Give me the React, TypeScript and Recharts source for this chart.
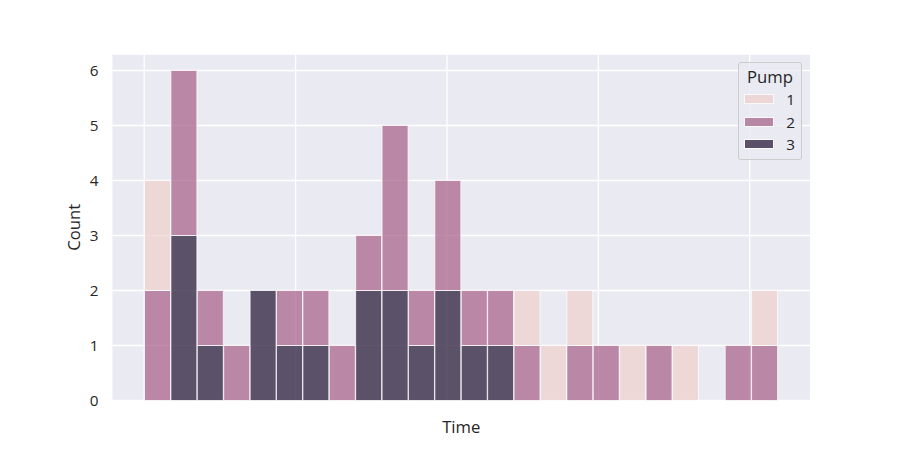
import { Bar, BarChart, CartesianGrid, Legend, XAxis, YAxis } from "recharts";

// histogram bins (index of each bin along the time axis)
const bins = [0, 1, 2, 3, 4, 5, 6, 7, 8, 9, 10, 11, 12, 13, 14, 15, 16, 17, 18, 19, 20, 21, 22, 23];

// counts per bin for each pump (stacked: 3 at the bottom, 1 on top)
const pump1 = [2, 0, 0, 0, 0, 0, 0, 0, 0, 0, 0, 0, 0, 0, 1, 1, 1, 0, 1, 0, 1, 0, 0, 1];
const pump2 = [2, 3, 1, 1, 0, 1, 1, 1, 1, 3, 1, 2, 1, 1, 1, 0, 1, 1, 0, 1, 0, 0, 1, 1];
const pump3 = [0, 3, 1, 0, 2, 1, 1, 0, 2, 2, 1, 2, 1, 1, 0, 0, 0, 0, 0, 0, 0, 0, 0, 0];

const pumps = ["1", "2", "3"];
const pumpColors = ["#edd1cd", "#a9668d", "#2b1d3b"];

// time-axis tick positions, in bin units (labels are not shown)
const timeTicks = [0, 5.73, 11.46, 17.19, 22.92];
const timeDomain = [-1.2, 25.2];
const countTicks = [0, 1, 2, 3, 4, 5, 6];

const rows = bins.map((b, i) => ({ bin: b, p1: pump1[i], p2: pump2[i], p3: pump3[i] }));

const textColor = "#262626";

// vertical grid lines at the time ticks, mapped linearly over the plot width
const timeGrid = ({ offset }: any) =>
  timeTicks.map(
    (t) => offset.left + ((t - timeDomain[0]) / (timeDomain[1] - timeDomain[0])) * offset.width
  );

function PumpLegend() {
  return (
    <div
      style={{
        boxSizing: "border-box",
        width: 64,
        height: 98,
        border: "1px solid #cccccc",
        borderRadius: 3,
        background: "rgba(234,234,242,0.8)",
        color: textColor,
        paddingTop: 3,
      }}
    >
      <div style={{ textAlign: "center", fontSize: 16.7, lineHeight: "22px" }}>Pump</div>
      {pumps.map((p, i) => (
        <div key={p} style={{ display: "flex", alignItems: "center", height: 22.5 }}>
          <span
            style={{
              display: "inline-block",
              width: 30,
              height: 10,
              marginLeft: 5,
              background: pumpColors[i],
              opacity: 0.75,
              boxSizing: "border-box",
              border: "1px solid #fff",
            }}
          />
          <span style={{ marginLeft: "auto", marginRight: 6, fontSize: 15.3 }}>{p}</span>
        </div>
      ))}
    </div>
  );
}

export default function App() {
  return (
    <div style={{ width: 900, height: 450, fontFamily: "'Open Sans', sans-serif" }}>
      <style>{"body{margin:0}"}</style>
      <BarChart
        width={900}
        height={450}
        data={rows}
        margin={{ top: 54, right: 90, bottom: 0, left: 62.5 }}
        barCategoryGap={0}
        barGap={0}
      >
        <CartesianGrid
          fill="#eaeaf2"
          fillOpacity={1}
          stroke="#ffffff"
          strokeWidth={1.3}
          verticalCoordinatesGenerator={timeGrid}
        />
        <XAxis
          type="number"
          domain={timeDomain}
          ticks={timeTicks}
          allowDataOverflow
          tick={false}
          tickLine={false}
          axisLine={false}
          height={49.5}
          label={{ value: "Time", position: "insideBottom", offset: 17, fill: textColor, fontSize: 16.7 }}
        />
        <XAxis xAxisId="bins" dataKey="bin" hide height={0} padding={{ left: 32, right: 32 }} />
        <YAxis
          width={50}
          domain={[0, 6.3]}
          ticks={countTicks}
          tickLine={false}
          axisLine={false}
          tickSize={0}
          tickMargin={14}
          tick={{ fill: textColor, fontSize: 15.3 }}
          label={{
            value: "Count",
            angle: -90,
            position: "insideLeft",
            offset: 12,
            fill: textColor,
            fontSize: 16.7,
            style: { textAnchor: "middle" },
          }}
        />
        <Legend
          layout="horizontal"
          verticalAlign="middle"
          align="center"
          wrapperStyle={{ position: "absolute", left: 738, top: 62, width: 64, height: 98 }}
          content={() => <PumpLegend />}
        />
        {[2, 1, 0].map((i) => (
          <Bar
            key={pumps[i]}
            xAxisId="bins"
            dataKey={"p" + pumps[i]}
            name={pumps[i]}
            stackId="pump"
            fill={pumpColors[i]}
            fillOpacity={0.75}
            stroke="#ffffff"
            strokeOpacity={0.75}
            strokeWidth={1}
            isAnimationActive={false}
          />
        ))}
      </BarChart>
    </div>
  );
}
